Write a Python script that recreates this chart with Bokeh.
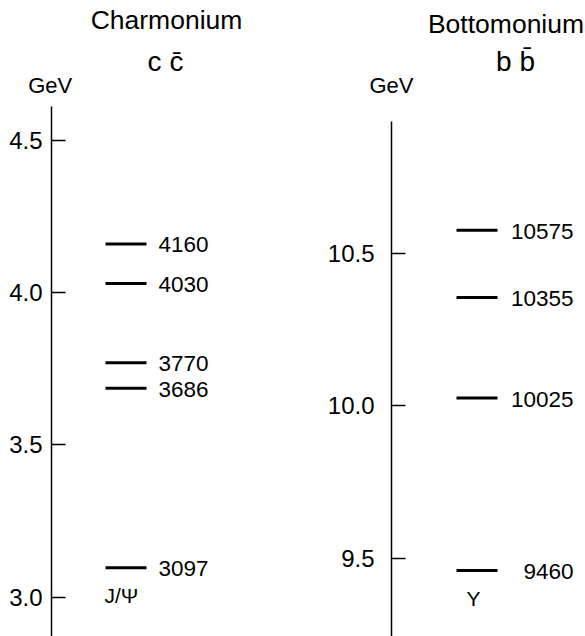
from bokeh.plotting import figure
from bokeh.models import Range1d, FixedTicker, PrintfTickFormatter, Label, ColumnDataSource
from bokeh.layouts import row, column
from bokeh.core.properties import value
from bokeh.embed import file_html
from bokeh.resources import INLINE

# ---- data ----
charm_masses = [3097, 3686, 3770, 4030, 4160]          # MeV
charm_names = ["J/\u03a8", "", "", "", ""]
charm_ticks = [3.0, 3.5, 4.0, 4.5]                      # GeV

bottom_masses = [9460, 10025, 10355, 10575]             # MeV
bottom_names = ["\u03a5", "", "", ""]
bottom_ticks = [9.5, 10.0, 10.5]                        # GeV

FONT = "Liberation Sans"
TOP_H = 104
TOTAL_W = 585
PANEL_H = 636 - TOP_H


def bare(p):
    p.min_border_top = 0
    p.min_border_bottom = 0
    p.min_border_right = 0
    p.outline_line_color = None
    p.background_fill_color = "white"
    p.border_fill_color = "white"
    p.xgrid.visible = False
    p.ygrid.visible = False


# ---- heading strip (titles and unit labels) ----
head = figure(width=TOTAL_W, height=TOP_H, output_backend="svg", toolbar_location=None,
              x_range=Range1d(0, TOTAL_W), y_range=Range1d(TOP_H, 0),
              x_axis_location=None, y_axis_location=None)
bare(head)
head.min_border_left = 0
head_texts = [
    ("Charmonium", 166, 19, "26.5px"),
    ("c c\u0304", 165, 60.5, "28px"),
    ("GeV", 49.7, 85, "22px"),
    ("Bottomonium", 505.5, 23, "26.5px"),
    ("b b\u0304", 515, 60.5, "28px"),
    ("GeV", 391, 85, "22px"),
]
for t, x, y, fs in head_texts:
    head.add_layout(Label(x=x, y=y, text=t, text_font=FONT, text_font_size=fs,
                          text_align="center", text_baseline="alphabetic",
                          text_color="black"))


def panel(masses, names, ticks, width, border_left, y_start, y_end, axis_top,
          line_x0, line_x1, lab_x, lab_align, name_x, name_align, standoff):
    p = figure(width=width, height=PANEL_H, output_backend="svg", toolbar_location=None,
               x_range=Range1d(0, width - border_left), y_range=Range1d(y_start, y_end),
               x_axis_location=None, y_axis_location="left")
    bare(p)
    p.min_border_left = border_left

    ax = p.yaxis[0]
    ax.ticker = FixedTicker(ticks=ticks)
    ax.formatter = PrintfTickFormatter(format="%.1f")
    ax.bounds = (y_start, axis_top)
    ax.major_tick_in = 14
    ax.major_tick_out = 0
    ax.minor_tick_line_color = None
    ax.axis_line_color = "black"
    ax.axis_line_width = 1.5
    ax.major_tick_line_color = "black"
    ax.major_tick_line_width = 1.5
    ax.major_label_standoff = standoff
    ax.major_label_text_font = FONT
    ax.major_label_text_font_size = "24px"
    ax.major_label_text_color = "black"

    src = ColumnDataSource(dict(
        y=[m / 1000 for m in masses],
        x0=[line_x0] * len(masses),
        x1=[line_x1] * len(masses),
        lx=[lab_x] * len(masses),
        nx=[name_x] * len(masses),
        lab=[str(m) for m in masses],
        name=names,
    ))
    p.segment(x0="x0", x1="x1", y0="y", y1="y", source=src, line_color="black", line_width=3)
    p.text(x="lx", y="y", text="lab", source=src, text_font=value(FONT),
           text_font_size="22.5px", text_align=lab_align, text_baseline="middle",
           y_offset=1, text_color="black")
    p.text(x="nx", y="y", text="name", source=src, text_font=value(FONT),
           text_font_size="21px", text_align=name_align, text_baseline="middle",
           y_offset=28, text_color="black")
    return p


# left panel: 3.0 GeV sits 596.7 px from page top, 304.5 px per GeV
top_px = TOP_H
p1 = panel(charm_masses, charm_names, charm_ticks, width=320, border_left=51,
           y_start=3.0 - (636 - 596.7) / 304.5, y_end=3.0 + (596.7 - top_px) / 304.5,
           axis_top=3.0 + (596.7 - 106) / 304.5,
           line_x0=54, line_x1=95, lab_x=107, lab_align="left",
           name_x=53, name_align="left", standoff=9)

# right panel: 9.5 GeV sits 557.7 px from page top, 305 px per GeV
p2 = panel(bottom_masses, bottom_names, bottom_ticks, width=265, border_left=71,
           y_start=9.5 - (636 - 557.7) / 305, y_end=9.5 + (557.7 - top_px) / 305,
           axis_top=9.5 + (557.7 - 120.7) / 305,
           line_x0=65, line_x1=106, lab_x=182, lab_align="right",
           name_x=82, name_align="center", standoff=17)

layout = column(head, row(p1, p2))
open("out.html", "w").write(file_html(layout, INLINE))
